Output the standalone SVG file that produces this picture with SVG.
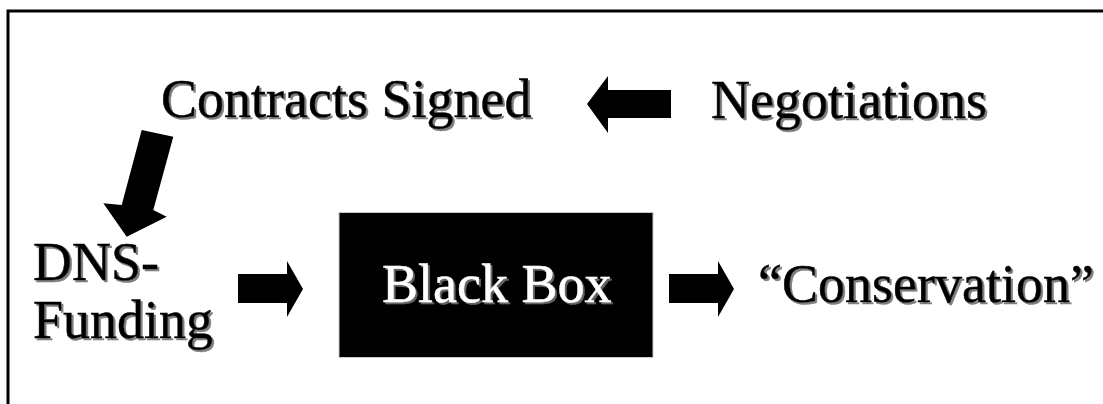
<svg xmlns="http://www.w3.org/2000/svg" width="1103" height="404" viewBox="0 0 1103 404">
  <defs>
    <filter id="shadow" x="-5%" y="-20%" width="115%" height="150%">
      <feDropShadow dx="2" dy="2" stdDeviation="0.6" flood-color="#707070" flood-opacity="0.9"/>
    </filter>
    <style>
      .label { font-family: "Liberation Serif", "Times New Roman", serif; font-size: 54px; fill: #000; stroke: #000; stroke-width: 0.5px; filter: url(#shadow); }
      .inverse { fill: #fff; stroke: #fff; }
      .arrow { fill: #000; stroke: none; }
    </style>
  </defs>

  <rect x="0" y="0" width="1103" height="404" fill="#fff"/>
  <!-- frame, open past the right and bottom edges -->
  <rect x="8" y="11" width="1110" height="410" fill="none" stroke="#000" stroke-width="3"/>

  <g id="contracts-signed">
    <text class="label" x="161" y="117">Contracts Signed</text>
  </g>

  <g id="negotiations">
    <text class="label" x="711" y="118">Negotiations</text>
  </g>

  <g id="dns-funding">
    <text class="label" x="33" y="280">DNS-</text>
    <text class="label" x="33" y="338">Funding</text>
  </g>

  <g id="black-box">
    <rect x="339" y="212.5" width="314" height="145" fill="#000" stroke="#c8c8c8" stroke-width="1"/>
    <text class="label inverse" x="382" y="302">Black Box</text>
  </g>

  <g id="conservation">
    <text class="label" x="758" y="302">“Conservation”</text>
  </g>

  <g id="connectors">
    <!-- Negotiations to Contracts Signed -->
    <polygon class="arrow" points="671,90 608,90 608,76 587,104 608,133 608,118 671,118"/>
    <!-- Contracts Signed to DNS-Funding -->
    <polygon class="arrow" points="141.7,130 173.3,136.7 153.3,210 166.7,216.7 126.7,236.7 103.3,203.3 121.7,205"/>
    <!-- DNS-Funding to Black Box -->
    <polygon class="arrow" points="238,274 287,274 287,261 303,289 287,317 287,303 238,303"/>
    <!-- Black Box to Conservation -->
    <polygon class="arrow" points="669,274 718,274 718,261 734,289 718,317 718,303 669,303"/>
  </g>
</svg>
